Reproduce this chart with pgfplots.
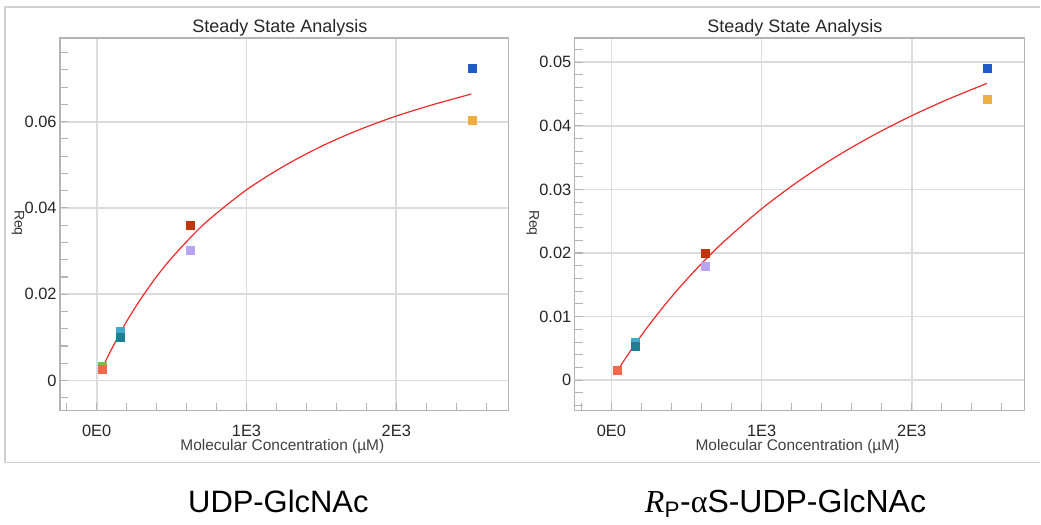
\documentclass[border=0pt]{standalone}
\usepackage{fontspec}
\setmainfont{Liberation Sans}
\newfontfamily\serif{Liberation Serif}
\usepackage{pgfplots}
\pgfplotsset{compat=1.18}

\definecolor{gridgray}{HTML}{DCDCDC}
\definecolor{axgray}{HTML}{B4B4B4}
\definecolor{framegray}{HTML}{D2D2D2}
\definecolor{ptblue}{HTML}{1E5BC6}
\definecolor{ptgold}{HTML}{EDB040}
\definecolor{ptdred}{HTML}{C0360C}
\definecolor{ptlav}{HTML}{B9A4F2}
\definecolor{pttealL}{HTML}{3FA9C9}
\definecolor{pttealD}{HTML}{1C7F94}
\definecolor{ptgreen}{HTML}{7AC143}
\definecolor{ptorange}{HTML}{F26A4B}
\definecolor{fitred}{HTML}{EE2A2A}

\pgfplotsset{
  ssa/.style={
    scale only axis, width=336.75pt, height=279.75pt, anchor=south west,
    xmin=-245, xmax=2750,
    xtick={0,1000,2000}, xticklabels={0E0,1E3,2E3},
    minor xtick={-200,200,400,600,800,1200,1400,1600,1800,2200,2400,2600},
    scaled y ticks=false, scaled x ticks=false,
    grid=major, major grid style={draw=gridgray, line width=1.3pt},
    axis line style={draw=axgray, line width=1.1pt},
    tick align=inside, tick pos=left,
    major tick length=6pt, minor tick length=6pt,
    every tick/.style={draw=axgray, line width=0.8pt},
    /pgf/number format/assume math mode=true,
    ticklabel style={font=\fontsize{12.3}{12.3}\selectfont, text=black!85},
    xticklabel style={yshift=-7pt},
    yticklabel style={xshift=1pt},
  },
  pt/.style={only marks, mark=square*, mark size=3pt, mark options={draw=#1, fill=#1}},
  fit/.style={no marks, smooth, fitred, line width=0.9pt},
}

\begin{document}
\begin{tikzpicture}
\path (0,0) rectangle (780.75pt,393.75pt);
% outer frame
\draw[framegray, line width=1pt] (780.75pt,388.5pt) -- (3.75pt,388.5pt) -- (3.75pt,46.5pt) -- (780.75pt,46.5pt);

% ---- UDP-GlcNAc
\begin{axis}[ssa, at={(45pt,85.5pt)},
  ymin=-0.0070, ymax=0.0794,
  ytick={0,0.02,0.04,0.06}, yticklabels={0,0.02,0.04,0.06},
  minor ytick={-0.004,0.004,0.008,0.012,0.016,0.024,0.028,0.032,0.036,0.044,0.048,0.052,0.056,0.064,0.068,0.072,0.076},
]
\addplot[fit] coordinates {
  (39,0.0030) (100,0.0073) (200,0.0137) (300,0.0192) (400,0.0241) (500,0.0284)
  (625,0.0331) (750,0.0373) (1000,0.0442) (1250,0.0497) (1500,0.0543)
  (1750,0.0581) (2000,0.0613) (2250,0.0640) (2500,0.0664)};
\addplot[pt=ptblue] coordinates {(2505,0.0723)};
\addplot[pt=ptgold] coordinates {(2505,0.0603)};
\addplot[pt=ptdred] coordinates {(627,0.0360)};
\addplot[pt=ptlav] coordinates {(627,0.0301)};
\addplot[pt=pttealL] coordinates {(160,0.0114)};
\addplot[pt=pttealD] coordinates {(160,0.0101)};
\addplot[pt=ptgreen] coordinates {(39,0.0032)};
\addplot[pt=ptorange] coordinates {(39,0.0025)};
\end{axis}

% ---- Rp-alphaS-UDP-GlcNAc
\begin{axis}[ssa, at={(431.25pt,85.5pt)}, width=337.5pt,
  ymin=-0.0048, ymax=0.0538,
  ytick={0,0.01,0.02,0.03,0.04,0.05}, yticklabels={0,0.01,0.02,0.03,0.04,0.05},
  minor ytick={-0.004,-0.002,0.002,0.004,0.006,0.008,0.012,0.014,0.016,0.018,0.022,0.024,0.026,0.028,0.032,0.034,0.036,0.038,0.042,0.044,0.046,0.048,0.052},
]
\addplot[fit] coordinates {
  (39,0.00147) (100,0.00367) (200,0.00706) (300,0.01019) (400,0.01310) (500,0.01581)
  (625,0.01894) (750,0.02182) (1000,0.02694) (1250,0.03135) (1500,0.03520)
  (1750,0.03858) (2000,0.04158) (2250,0.04425) (2500,0.04665)};
\addplot[pt=ptblue] coordinates {(2505,0.0491)};
\addplot[pt=ptgold] coordinates {(2505,0.0441)};
\addplot[pt=ptdred] coordinates {(627,0.0199)};
\addplot[pt=ptlav] coordinates {(627,0.0179)};
\addplot[pt=pttealL] coordinates {(160,0.0059)};
\addplot[pt=pttealD] coordinates {(160,0.0053)};
\addplot[pt=ptorange] coordinates {(37,0.0015)};
\end{axis}

% titles and labels
\node[font=\fontsize{13.5}{13.5}\selectfont, text=black!85] at (210pt,373pt) {Steady State Analysis};
\node[font=\fontsize{13.5}{13.5}\selectfont, text=black!85] at (596.5pt,373pt) {Steady State Analysis};
\node[font=\fontsize{11.6}{11.6}\selectfont, text=black!75] at (211.9pt,58.7pt) {Molecular Concentration (µM)};
\node[font=\fontsize{11.6}{11.6}\selectfont, text=black!75] at (598.5pt,58.7pt) {Molecular Concentration (µM)};
\node[font=\fontsize{10.5}{10.5}\selectfont, text=black!80, rotate=-90] at (13.5pt,226.5pt) {Req};
\node[font=\fontsize{10.5}{10.5}\selectfont, text=black!80, rotate=-90] at (399.75pt,226.5pt) {Req};

% captions
\node[font=\fontsize{23.2}{23.2}\selectfont, anchor=base] at (208.9pt,9pt) {UDP-GlcNAc};
\node[font=\fontsize{24}{24}\selectfont, anchor=base] at (589.5pt,9pt) {{\serif\itshape R}\textsubscript{P}-{\serif α}S-UDP-GlcNAc};
\end{tikzpicture}
\end{document}
